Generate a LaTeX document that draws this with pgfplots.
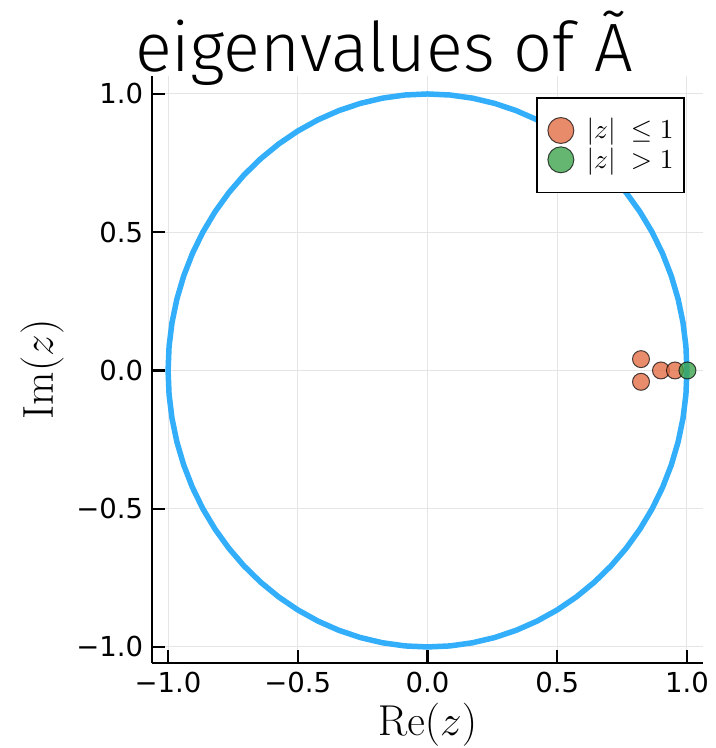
\documentclass[border=0pt]{standalone}
\usepackage[no-math]{fontspec}
\usepackage{pgfplots}
\pgfplotsset{compat=1.18}
\newfontfamily\tickfont{DejaVu Sans}
\newfontfamily\titlefont{Fira Sans}[UprightFont=* Light]
\definecolor{circblue}{RGB}{51,174,251}
\definecolor{porange}{RGB}{227,111,71}
\definecolor{pgreen}{RGB}{62,164,78}
\definecolor{gridgray}{RGB}{229,229,229}
\begin{document}
\begin{tikzpicture}
\useasboundingbox (-60.8pt,-34pt) rectangle (225.2pt,265.2pt);
\begin{axis}[
  at={(0,0)}, anchor=south west,
  scale only axis, width=220.4pt, height=234.8pt,
  xmin=-1.062, xmax=1.062, ymin=-1.058, ymax=1.065,
  axis x line*=bottom, axis y line*=left,
  axis line style={-, line width=1pt, black},
  tick align=inside, major tick length=5.2pt,
  tick style={line width=0.9pt, black},
  xtick={-1,-0.5,0,0.5,1}, ytick={-1,-0.5,0,0.5,1},
  xticklabels={−1.0,−0.5,0.0,0.5,1.0},
  yticklabels={−1.0,−0.5,0.0,0.5,1.0},
  ticklabel style={font=\tickfont\fontsize{11}{13}\selectfont},
  grid=major, grid style={gridgray, line width=0.4pt},
  xlabel={$\mathrm{Re}(z)$},
  ylabel={$\mathrm{Im}(z)$},
  label style={font=\fontsize{16.5}{18}\selectfont},
  xlabel style={at={(axis description cs:0.5,0)}, anchor=base, yshift=-28.8pt},
  ylabel style={at={(axis description cs:-0.1996,0.5)}, anchor=center},
  legend style={at={(0.967,0.964)}, anchor=north east, draw=black, line width=0.6pt,
    fill=white, font=\fontsize{10.8}{12.4}\selectfont, row sep=0pt,
    inner xsep=1.7pt, inner ysep=7.2pt, nodes={inner ysep=1pt, inner xsep=2.5pt}},
  legend cell align=left,
  legend image code/.code={\path (0pt,0pt) (15pt,0pt);
    \draw[#1,mark size=5.2pt] plot coordinates {(7.5pt,0pt)};},
]
\addplot[circblue, line width=2.2pt, line join=round, forget plot] coordinates {
(1,0) (0.99619,0.08716) (0.98481,0.17365) (0.96593,0.25882) (0.93969,0.34202)
(0.90631,0.42262) (0.86603,0.5) (0.81915,0.57358) (0.76604,0.64279) (0.70711,0.70711)
(0.64279,0.76604) (0.57358,0.81915) (0.5,0.86603) (0.42262,0.90631) (0.34202,0.93969)
(0.25882,0.96593) (0.17365,0.98481) (0.08716,0.99619) (0,1)
(-0.08716,0.99619) (-0.17365,0.98481) (-0.25882,0.96593) (-0.34202,0.93969)
(-0.42262,0.90631) (-0.5,0.86603) (-0.57358,0.81915) (-0.64279,0.76604) (-0.70711,0.70711)
(-0.76604,0.64279) (-0.81915,0.57358) (-0.86603,0.5) (-0.90631,0.42262) (-0.93969,0.34202)
(-0.96593,0.25882) (-0.98481,0.17365) (-0.99619,0.08716) (-1,0)
(-0.99619,-0.08716) (-0.98481,-0.17365) (-0.96593,-0.25882) (-0.93969,-0.34202)
(-0.90631,-0.42262) (-0.86603,-0.5) (-0.81915,-0.57358) (-0.76604,-0.64279) (-0.70711,-0.70711)
(-0.64279,-0.76604) (-0.57358,-0.81915) (-0.5,-0.86603) (-0.42262,-0.90631) (-0.34202,-0.93969)
(-0.25882,-0.96593) (-0.17365,-0.98481) (-0.08716,-0.99619) (0,-1)
(0.08716,-0.99619) (0.17365,-0.98481) (0.25882,-0.96593) (0.34202,-0.93969)
(0.42262,-0.90631) (0.5,-0.86603) (0.57358,-0.81915) (0.64279,-0.76604) (0.70711,-0.70711)
(0.76604,-0.64279) (0.81915,-0.57358) (0.86603,-0.5) (0.90631,-0.42262) (0.93969,-0.34202)
(0.96593,-0.25882) (0.98481,-0.17365) (0.99619,-0.08716) (1,0) (0.99619,0.08716)
};
\addplot[only marks, mark=*, mark size=3.4pt,
  mark options={fill=porange, fill opacity=0.8, draw=black, draw opacity=0.7, line width=0.4pt}]
  coordinates {(0.823,0.041) (0.823,-0.041) (0.900,0) (0.954,0)};
\addlegendentry{$|z|\;\le 1$}
\addplot[only marks, mark=*, mark size=3.4pt,
  mark options={fill=pgreen, fill opacity=0.8, draw=black, draw opacity=0.7, line width=0.4pt}]
  coordinates {(1.002,0)};
\addlegendentry{$|z|\;> 1$}
\end{axis}
\node[anchor=base, inner sep=0pt] at (92.8pt,236.4pt)
  {\resizebox{199pt}{!}{\titlefont eigenvalues of Ã}};
\end{tikzpicture}
\end{document}
